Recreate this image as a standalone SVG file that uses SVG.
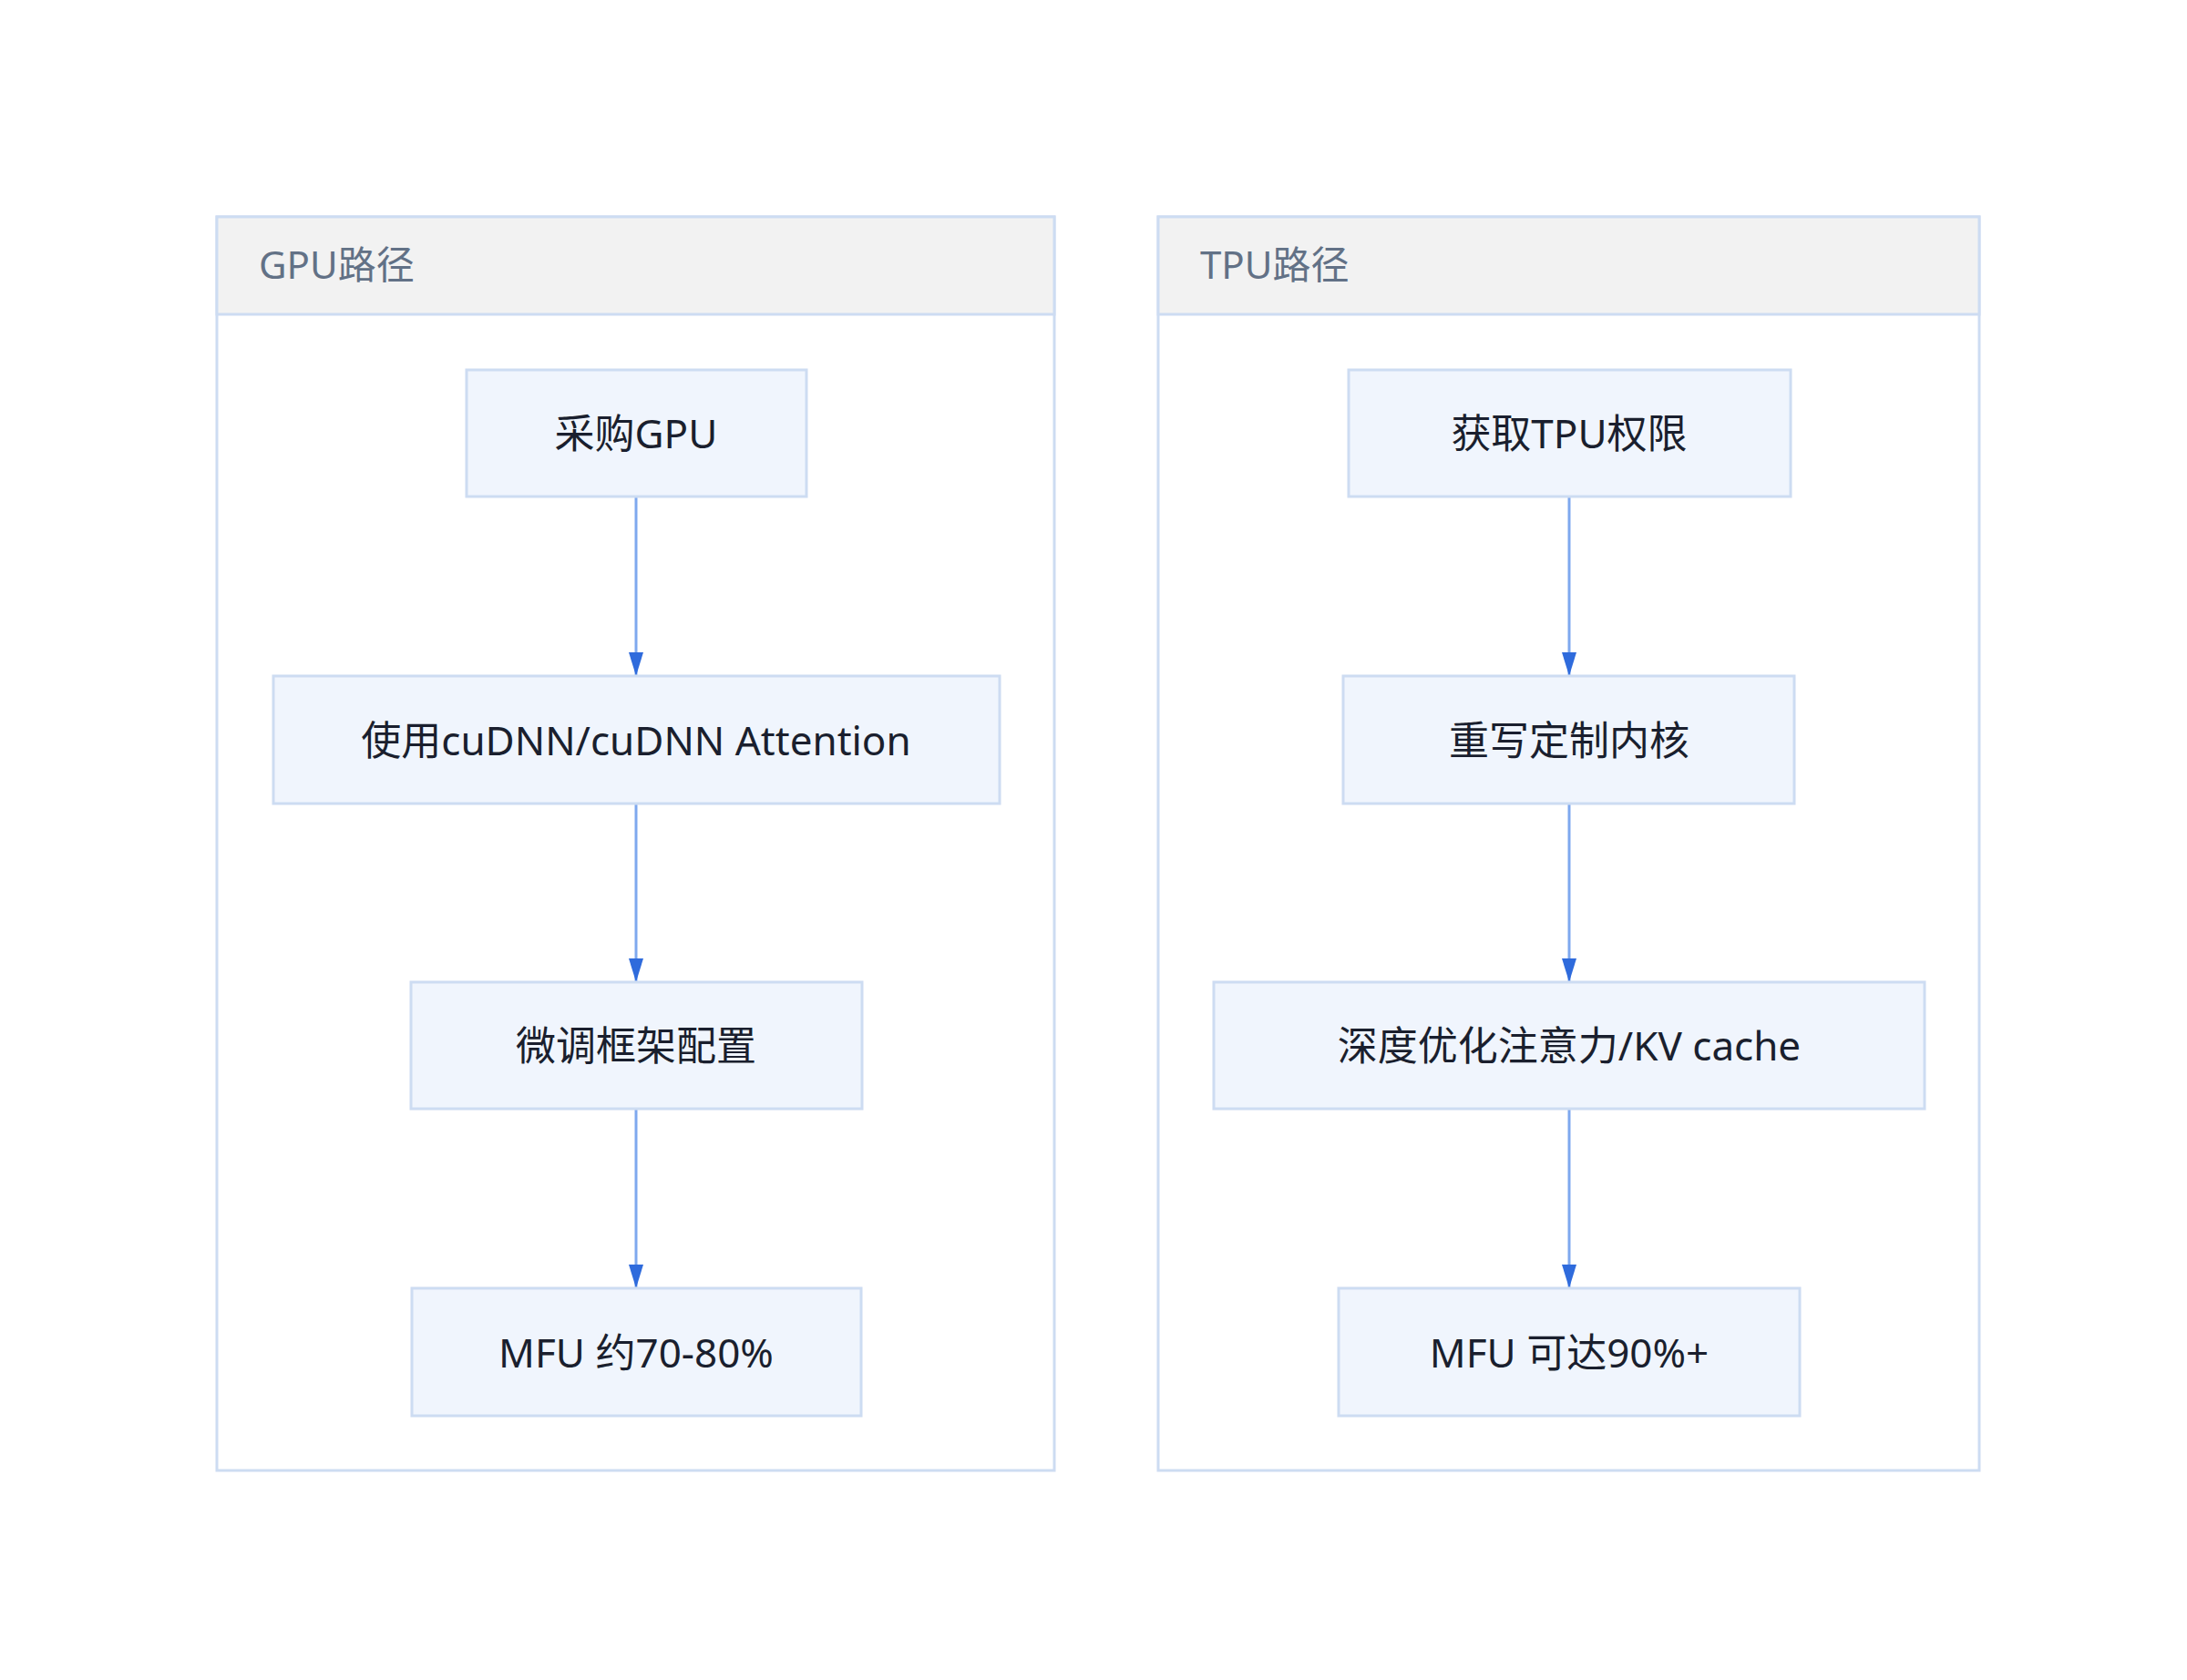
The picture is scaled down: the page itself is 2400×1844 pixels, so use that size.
<svg xmlns="http://www.w3.org/2000/svg" width="2400" height="1844" viewBox="0 0 2400 1844">
<style>
.grp{fill:#ffffff;stroke:#cddcf2;stroke-width:3}
.hdr{fill:#f2f2f2;stroke:#cddcf2;stroke-width:3}
.ttl{font-family:"Noto Sans","Noto Sans CJK SC",sans-serif;font-size:42px;fill:#627186}
.box{fill:#f0f5fd;stroke:#cddcf2;stroke-width:3}
.lbl{font-family:"Noto Sans","Noto Sans CJK SC",sans-serif;font-size:44px;fill:#1a1f2e;text-anchor:middle;dominant-baseline:central}
.edge{stroke:#7ea8ee;stroke-width:3;fill:none;marker-end:url(#ah)}
</style>
<defs>
<marker id="ah" markerWidth="10" markerHeight="12" refX="9" refY="6" orient="auto" markerUnits="userSpaceOnUse" viewBox="0 0 10 12">
<path d="M0,0 L10,6 L0,12 Z" fill="#2f6bdc"/>
</marker>
<marker id="ahv" markerWidth="16" markerHeight="26" refX="8" refY="26" orient="0" markerUnits="userSpaceOnUse" viewBox="0 0 16 26">
<path d="M0,0 L16,0 L8,26 Z" fill="#2f6bdc"/>
</marker>
</defs>
<rect width="2400" height="1844" fill="#ffffff"/>
<g id="gpu-path">
<rect class="grp" x="238" y="238" width="919" height="1376"/>
<rect class="hdr" x="238" y="238" width="919" height="107"/>
<text class="ttl" x="284" y="306">GPU路径</text>
</g>
<g id="tpu-path">
<rect class="grp" x="1271" y="238" width="901" height="1376"/>
<rect class="hdr" x="1271" y="238" width="901" height="107"/>
<text class="ttl" x="1317" y="306">TPU路径</text>
</g>
<g id="connectors">
<path d="M698,545 V742" stroke="#7ea8ee" stroke-width="3" marker-end="url(#ahv)"/>
<path d="M698,882 V1078" stroke="#7ea8ee" stroke-width="3" marker-end="url(#ahv)"/>
<path d="M698,1217 V1414" stroke="#7ea8ee" stroke-width="3" marker-end="url(#ahv)"/>
<path d="M1722,545 V742" stroke="#7ea8ee" stroke-width="3" marker-end="url(#ahv)"/>
<path d="M1722,882 V1078" stroke="#7ea8ee" stroke-width="3" marker-end="url(#ahv)"/>
<path d="M1722,1217 V1414" stroke="#7ea8ee" stroke-width="3" marker-end="url(#ahv)"/>
</g>
<g id="g1"><rect class="box" x="512" y="406" width="373" height="139"/><text class="lbl" x="698" y="475">采购GPU</text></g>
<g id="g2"><rect class="box" x="300" y="742" width="797" height="140"/><text class="lbl" x="698" y="812">使用cuDNN/cuDNN Attention</text></g>
<g id="g3"><rect class="box" x="451" y="1078" width="495" height="139"/><text class="lbl" x="698" y="1147">微调框架配置</text></g>
<g id="g4"><rect class="box" x="452" y="1414" width="493" height="140"/><text class="lbl" x="698" y="1484">MFU 约70-80%</text></g>
<g id="t1"><rect class="box" x="1480" y="406" width="485" height="139"/><text class="lbl" x="1722" y="475">获取TPU权限</text></g>
<g id="t2"><rect class="box" x="1474" y="742" width="495" height="140"/><text class="lbl" x="1722" y="812">重写定制内核</text></g>
<g id="t3"><rect class="box" x="1332" y="1078" width="780" height="139"/><text class="lbl" x="1722" y="1147">深度优化注意力/KV cache</text></g>
<g id="t4"><rect class="box" x="1469" y="1414" width="506" height="140"/><text class="lbl" x="1722" y="1484">MFU 可达90%+</text></g>
</svg>
